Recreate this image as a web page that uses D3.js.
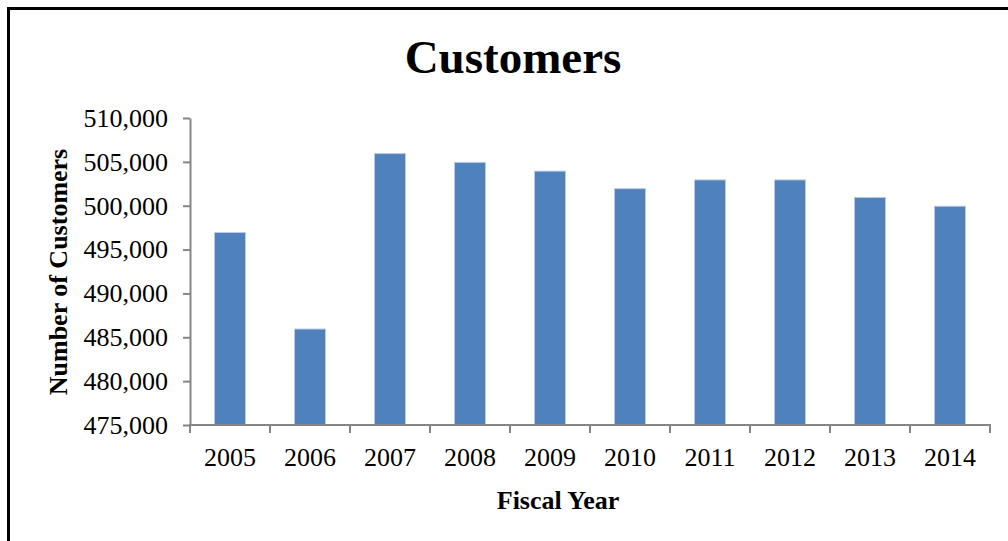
<!DOCTYPE html>
<html>
<head>
<meta charset="utf-8">
<script src="https://cdn.jsdelivr.net/npm/d3@7"></script>
<style>
  html, body { margin: 0; padding: 0; background: #fff; }
  svg { display: block; }
  text { font-family: "Liberation Serif", "Times New Roman", serif; fill: #000; }
</style>
</head>
<body>
<svg id="chart" width="1008" height="541"></svg>
<script>
// Fiscal years and customer counts
const years = ["2005", "2006", "2007", "2008", "2009", "2010", "2011", "2012", "2013", "2014"];
const customers = [497000, 486000, 506000, 505000, 504000, 502000, 503000, 503000, 501000, 500000];
const yTicks = [475000, 480000, 485000, 490000, 495000, 500000, 505000, 510000];

const svg = d3.select("#chart");
const W = 1008, H = 541;
const plot = { left: 190, right: 990, top: 118, bottom: 425 };

svg.append("rect").attr("width", W).attr("height", H).attr("fill", "#fff");

// Outer chart frame
svg.append("rect")
  .attr("x", 8.5).attr("y", 8.5)
  .attr("width", 1100).attr("height", 600)
  .attr("fill", "none").attr("stroke", "#000").attr("stroke-width", 3);

const x = d3.scaleBand()
  .domain(years)
  .range([plot.left, plot.right])
  .paddingInner(0.6)
  .paddingOuter(0.3);

const y = d3.scaleLinear()
  .domain([475000, 510000])
  .range([plot.bottom, plot.top]);

// Bars
svg.append("g")
  .selectAll("rect")
  .data(years.map((yr, i) => ({ yr, v: customers[i] })))
  .join("rect")
  .attr("x", d => x(d.yr) + 0.5)
  .attr("y", d => y(d.v) + 0.5)
  .attr("width", x.bandwidth() - 1)
  .attr("height", d => plot.bottom - y(d.v) - 0.5)
  .attr("fill", "#4F81BD")
  .attr("stroke", "#B9CDE5")
  .attr("stroke-width", 1);

// Y axis
const fmt = d3.format(",");
const yAxis = svg.append("g")
  .attr("transform", `translate(${plot.left},0)`)
  .call(d3.axisLeft(y).tickValues(yTicks).tickFormat(fmt).tickSizeInner(7).tickSizeOuter(0).tickPadding(15));
yAxis.select(".domain").attr("stroke", "#868686").attr("stroke-width", 2);
yAxis.selectAll(".tick line").attr("stroke", "#868686").attr("stroke-width", 2);
yAxis.selectAll(".tick text")
  .attr("font-size", 26)
  .attr("font-family", "'Liberation Serif', serif")
  .attr("fill", "#000");

// X axis with ticks at category boundaries
const xAxisG = svg.append("g").attr("transform", `translate(0,${plot.bottom})`);
const step = x.step();
const boundaries = d3.range(years.length + 1).map(i => plot.left + i * step);
xAxisG.append("line")
  .attr("x1", plot.left - 1).attr("x2", plot.right + 1)
  .attr("stroke", "#868686").attr("stroke-width", 2);
xAxisG.selectAll("line.tk")
  .data(boundaries)
  .join("line")
  .attr("class", "tk")
  .attr("x1", d => d).attr("x2", d => d)
  .attr("y1", 0).attr("y2", 8)
  .attr("stroke", "#868686").attr("stroke-width", 2);
xAxisG.selectAll("text")
  .data(years)
  .join("text")
  .attr("x", d => x(d) + x.bandwidth() / 2)
  .attr("y", 41)
  .attr("text-anchor", "middle")
  .attr("font-size", 26)
  .text(d => d);

// Title
svg.append("text")
  .attr("x", 513).attr("y", 73)
  .attr("text-anchor", "middle")
  .attr("font-size", 47)
  .attr("font-weight", "bold")
  .text("Customers");

// Axis titles
svg.append("text")
  .attr("x", 558).attr("y", 509)
  .attr("text-anchor", "middle")
  .attr("font-size", 26)
  .attr("font-weight", "bold")
  .text("Fiscal Year");

svg.append("text")
  .attr("transform", "translate(67,272) rotate(-90)")
  .attr("text-anchor", "middle")
  .attr("font-size", 26)
  .attr("font-weight", "bold")
  .text("Number of Customers");
</script>
</body>
</html>
